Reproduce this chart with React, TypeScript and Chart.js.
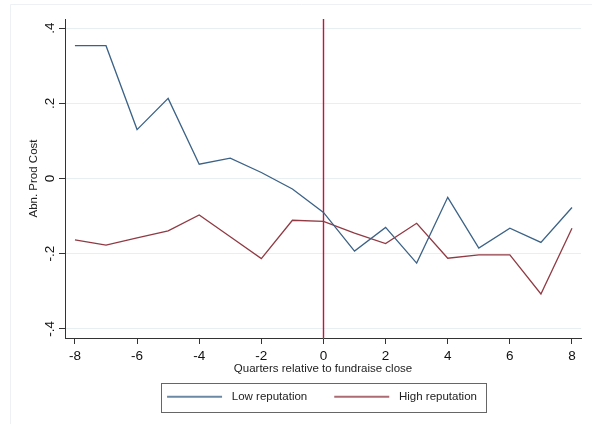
import React, { useEffect, useRef } from 'react';
import { Chart, registerables } from 'chart.js';

Chart.register(...registerables);

const quarters = [-8, -7, -6, -5, -4, -3, -2, -1, 0, 1, 2, 3, 4, 5, 6, 7, 8];
const lowReputation = [0.353, 0.353, 0.13, 0.213, 0.038, 0.054, 0.016, -0.028, -0.09, -0.193, -0.13, -0.225, -0.05, -0.185, -0.132, -0.17, -0.077];
const highReputation = [-0.163, -0.177, -0.158, -0.139, -0.097, -0.155, -0.213, -0.111, -0.114, -0.145, -0.173, -0.119, -0.212, -0.203, -0.203, -0.307, -0.132];
const seriesNames = ['Low reputation', 'High reputation'];
const xTickValues = [-8, -6, -4, -2, 0, 2, 4, 6, 8];
const yTickValues = [-0.4, -0.2, 0, 0.2, 0.4];
const yTickLabels = ['-.4', '-.2', '0', '.2', '.4'];
const fundraiseQuarter = 0;

const FONT = '"Liberation Sans", Arial, Helvetica, sans-serif';
const BLUE = '#3b6286';
const RED = '#903a43';
const VLINE = '#c8123e';
const AXIS = '#333333';
const GRID = '#e7eff1';

function legendLine(color: string) {
  const c = document.createElement('canvas');
  c.width = 80;
  c.height = 4;
  const g = c.getContext('2d')!;
  g.strokeStyle = color;
  g.lineWidth = 1.3;
  g.beginPath();
  g.moveTo(21, 2);
  g.lineTo(76, 2);
  g.stroke();
  return c;
}

const decor = {
  id: 'decor',
  beforeDraw(chart: any) {
    const ctx = chart.ctx;
    ctx.save();
    ctx.strokeStyle = '#edf1f4';
    ctx.lineWidth = 1;
    ctx.beginPath();
    ctx.moveTo(10.5, chart.height);
    ctx.lineTo(10.5, 4.5);
    ctx.lineTo(chart.width, 4.5);
    ctx.stroke();
    ctx.restore();
  },
  afterLayout(chart: any) {
    const lg = chart.legend;
    if (lg) {
      lg.left += 21;
      lg.right += 21;
    }
  },
  beforeDatasetsDraw(chart: any) {
    const { ctx, chartArea, scales } = chart;
    const px = Math.round(scales.x.getPixelForValue(fundraiseQuarter)) + 0.5;
    ctx.save();
    ctx.strokeStyle = VLINE;
    ctx.lineWidth = 1.4;
    ctx.beginPath();
    ctx.moveTo(px, chartArea.top);
    ctx.lineTo(px, chartArea.bottom);
    ctx.stroke();
    ctx.restore();
  },
  afterDraw(chart: any) {
    const lg = chart.legend;
    if (!lg || !lg.legendHitBoxes || !lg.legendHitBoxes.length) return;
    const hb = lg.legendHitBoxes;
    const first = hb[0];
    const last = hb[hb.length - 1];
    const left = Math.round(first.left + 21 - 6) + 0.5;
    const right = Math.round(last.left + last.width + 9) + 0.5;
    const top = Math.round(first.top - 8) + 0.5;
    const bottom = Math.round(first.top + first.height + 9) + 0.5;
    const ctx = chart.ctx;
    ctx.save();
    ctx.strokeStyle = '#666666';
    ctx.lineWidth = 1;
    ctx.strokeRect(left, top, right - left, bottom - top);
    ctx.restore();
  },
};

export default function App() {
  const ref = useRef<HTMLCanvasElement>(null);

  useEffect(() => {
    if (!ref.current) return;
    const defaultGen = (Chart as any).defaults.plugins.legend.labels.generateLabels;
    const chart = new Chart(ref.current, {
      type: 'line',
      data: {
        datasets: [
          {
            label: seriesNames[0],
            data: quarters.map((q, i) => ({ x: q, y: lowReputation[i] })),
            borderColor: BLUE,
            backgroundColor: BLUE,
            borderWidth: 1.3,
            pointRadius: 0,
            fill: false,
            tension: 0,
          },
          {
            label: seriesNames[1],
            data: quarters.map((q, i) => ({ x: q, y: highReputation[i] })),
            borderColor: RED,
            backgroundColor: RED,
            borderWidth: 1.3,
            pointRadius: 0,
            fill: false,
            tension: 0,
          },
        ],
      },
      options: {
        responsive: false,
        animation: false,
        devicePixelRatio: 1,
        layout: { padding: { left: 0, right: 11, top: 19, bottom: 11.5 } },
        plugins: {
          tooltip: { enabled: false },
          legend: {
            position: 'bottom',
            labels: {
              usePointStyle: true,
              pointStyleWidth: 80,
              padding: 6,
              color: '#222',
              font: { family: FONT, size: 11.5 },
              generateLabels: (c: any) =>
                defaultGen(c).map((it: any) => ({ ...it, pointStyle: legendLine(it.strokeStyle) })),
            },
          },
        },
        scales: {
          x: {
            type: 'linear',
            min: -8.32,
            max: 8.29,
            afterBuildTicks: (s: any) => {
              s.ticks = xTickValues.map((v) => ({ value: v }));
            },
            afterFit: (s: any) => {
              s.height = 47;
            },
            ticks: {
              autoSkip: false,
              maxRotation: 0,
              padding: 3.8,
              color: '#111',
              font: { family: FONT, size: 13.5 },
              callback: (v: any) => String(v),
            },
            grid: { drawOnChartArea: false, tickLength: 6, tickColor: AXIS },
            border: { color: AXIS, width: 1 },
            title: {
              display: true,
              text: 'Quarters relative to fundraise close',
              color: '#222',
              font: { family: FONT, size: 11.5 },
              padding: { top: 0, bottom: 9.1 },
            },
          },
          y: {
            type: 'linear',
            min: -0.424,
            max: 0.424,
            afterBuildTicks: (s: any) => {
              s.ticks = yTickValues.map((v) => ({ value: v }));
            },
            afterFit: (s: any) => {
              s.width = 65;
            },
            ticks: {
              autoSkip: false,
              minRotation: 90,
              maxRotation: 90,
              crossAlign: 'center',
              padding: 1,
              color: '#111',
              font: { family: FONT, size: 13.5 },
              callback: (v: any) => {
                const i = yTickValues.findIndex((t) => Math.abs(t - Number(v)) < 1e-9);
                return i >= 0 ? yTickLabels[i] : '';
              },
            },
            grid: { color: GRID, lineWidth: 1, tickLength: 6, tickColor: AXIS },
            border: { color: AXIS, width: 1 },
            title: {
              display: true,
              text: 'Abn. Prod Cost',
              color: '#222',
              font: { family: FONT, size: 11.5 },
              padding: { top: 27.1, bottom: 0 },
            },
          },
        },
      } as any,
      plugins: [decor],
    });
    return () => chart.destroy();
  }, []);

  return (
    <div style={{ position: 'fixed', left: 0, top: 0, width: 592, height: 424, background: '#fff' }}>
      <canvas ref={ref} width={592} height={424} style={{ display: 'block' }} />
    </div>
  );
}
